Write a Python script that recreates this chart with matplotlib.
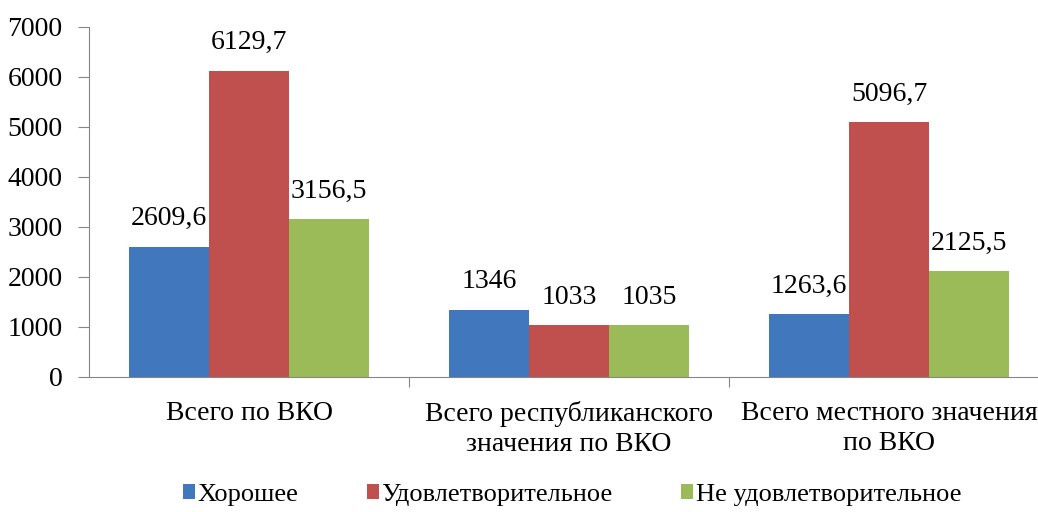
import matplotlib
matplotlib.use("Agg")
import matplotlib.pyplot as plt
import numpy as np

categories = ["Всего по ВКО", "Всего республиканского\nзначения по ВКО", "Всего местного значения\nпо ВКО"]
series_names = ["Хорошее", "Удовлетворительное", "Не удовлетворительное"]
good = [2609.6, 1346, 1263.6]
satisfactory = [6129.7, 1033, 5096.7]
unsatisfactory = [3156.5, 1035, 2125.5]
colors = ["#4077BD", "#C0504D", "#9BBB59"]
y_ticks = [0, 1000, 2000, 3000, 4000, 5000, 6000, 7000]


def fmt(v):
    if float(v).is_integer():
        return str(int(v))
    return f"{v:.1f}".replace(".", ",")


plt.rcParams["font.family"] = ["Liberation Serif", "DejaVu Serif"]
FS = 20

fig = plt.figure(figsize=(10.38, 5.12), dpi=100)
ax = fig.add_axes([89 / 1038, 1 - 377 / 512, (1038 - 89) / 1038, 350 / 512])

x = np.arange(len(categories))
width = 0.25
for i, (name, vals) in enumerate(zip(series_names, [good, satisfactory, unsatisfactory])):
    bars = ax.bar(x + (i - 1) * width, vals, width, color=colors[i], label=name)
    for b, v in zip(bars, vals):
        ax.annotate(fmt(v), (b.get_x() + b.get_width() / 2, b.get_height()),
                    xytext=(0, 11), textcoords="offset points",
                    ha="center", va="bottom", fontsize=FS)

ax.set_ylim(0, 7000)
ax.set_yticks(y_ticks)
ax.set_yticklabels([str(t) for t in y_ticks], fontsize=FS)
ax.set_xlim(-0.5, -0.5 + (1038 - 89) / 320)

# category boundaries as ticks, labels at centres
ax.set_xticks([0.5, 1.5], minor=False)
ax.set_xticklabels([])
ax.set_xticks(x, minor=True)
ax.set_xticklabels(categories, minor=True, fontsize=FS, linespacing=1.3)
ax.tick_params(axis="x", which="minor", length=0, pad=17)
ax.tick_params(axis="x", which="major", length=7, color="#868686", direction="out")
ax.tick_params(axis="y", length=8, color="#868686", direction="out", pad=11)

for side in ["top", "right"]:
    ax.spines[side].set_visible(False)
for side in ["left", "bottom"]:
    ax.spines[side].set_color("#868686")

ax.legend(loc="center", bbox_to_anchor=(0.509, -0.337), ncol=3, frameon=False,
          fontsize=19, handlelength=0.45, handleheight=0.45, handletextpad=0.1, columnspacing=2.6)

fig.savefig("out.png", dpi=100)
